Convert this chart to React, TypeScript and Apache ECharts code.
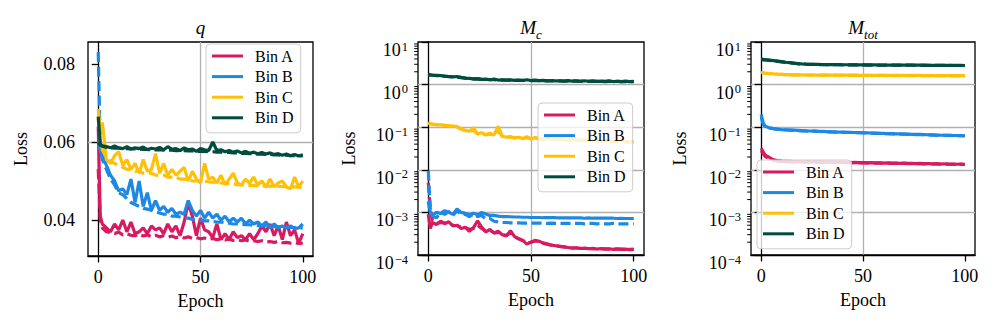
import React, { useEffect, useRef } from "react";
import * as echarts from "echarts";

// ---------- data ----------
const epochs = [0, 1,
  2, 4, 6, 8, 10, 12, 14, 16, 18, 20,
  22, 24, 26, 28, 30, 32, 34, 36, 38, 40,
  42, 44, 46, 48, 50, 52, 54, 56, 58, 60,
  62, 64, 66, 68, 70, 72, 74, 76, 78, 80,
  82, 84, 86, 88, 90, 92, 94, 96, 98, 100];

const binNames = ["Bin A", "Bin B", "Bin C", "Bin D"];
const binColors = ["#D81B60", "#1E88E5", "#FFC107", "#004D40"];
const epochTicks = [0, 50, 100];
const qTicks = [0.04, 0.06, 0.08];
const logDecades = [1e-4, 1e-3, 1e-2, 1e-1, 1];
const logMinorMultipliers = [2, 3, 4, 5, 6, 7, 8, 9];

// panel q
const qTrainA = [0.064, 0.041,
  0.039, 0.038, 0.037, 0.039, 0.0375, 0.040, 0.037, 0.0395, 0.0365, 0.037,
  0.038, 0.0365, 0.0385, 0.0375, 0.038, 0.0365, 0.039, 0.037, 0.0385, 0.036,
  0.0395, 0.0445, 0.041, 0.036, 0.0405, 0.0375, 0.037, 0.0355, 0.039, 0.035,
  0.0365, 0.035, 0.037, 0.0355, 0.036, 0.035, 0.0365, 0.035, 0.0365, 0.0385,
  0.037, 0.039, 0.036, 0.0385, 0.035, 0.0395, 0.036, 0.0375, 0.034, 0.0365];
const qValA = [0.053, 0.040,
  0.038, 0.037, 0.0368, 0.0366, 0.0369, 0.0362, 0.0365, 0.0361, 0.036, 0.0364,
  0.0359, 0.0362, 0.0358, 0.0361, 0.0357, 0.0360, 0.0356, 0.0359, 0.0355, 0.0357,
  0.0354, 0.0357, 0.0353, 0.0355, 0.0352, 0.0354, 0.0351, 0.0353, 0.0350, 0.0351,
  0.0349, 0.0351, 0.0348, 0.0349, 0.0347, 0.0349, 0.0346, 0.0347, 0.0345, 0.0347,
  0.0344, 0.0345, 0.0343, 0.0345, 0.0342, 0.0343, 0.0341, 0.0342, 0.0340, 0.0341];
const qTrainB = [0.060, 0.058,
  0.0565, 0.054, 0.0515, 0.050, 0.0475, 0.048, 0.0465, 0.0505, 0.0445, 0.050,
  0.0435, 0.047, 0.0425, 0.045, 0.0425, 0.0435, 0.042, 0.043, 0.0415, 0.042,
  0.0415, 0.045, 0.0425, 0.041, 0.0425, 0.0405, 0.042, 0.0405, 0.0415, 0.040,
  0.041, 0.0395, 0.0405, 0.0395, 0.0405, 0.039, 0.040, 0.039, 0.0395, 0.0385,
  0.0395, 0.038, 0.039, 0.038, 0.0385, 0.038, 0.0385, 0.0378, 0.038, 0.039];
const qValB = [0.083, 0.059,
  0.0555, 0.053, 0.0505, 0.049, 0.047, 0.0465, 0.0455, 0.0445, 0.044, 0.0435,
  0.043, 0.0428, 0.0425, 0.042, 0.0418, 0.0415, 0.0415, 0.041, 0.041, 0.0408,
  0.0405, 0.0405, 0.0402, 0.040, 0.040, 0.0398, 0.0398, 0.0396, 0.0395, 0.0395,
  0.0393, 0.0392, 0.039, 0.039, 0.0389, 0.0388, 0.0388, 0.0386, 0.0386, 0.0385,
  0.0385, 0.0384, 0.0383, 0.0383, 0.0382, 0.0382, 0.0381, 0.0381, 0.038, 0.038];
const qTrainC = [0.0685, 0.063,
  0.065, 0.0555, 0.0545, 0.0565, 0.0575, 0.054, 0.0555, 0.053, 0.0545, 0.052,
  0.0555, 0.0525, 0.053, 0.057, 0.052, 0.0545, 0.0515, 0.053, 0.0515, 0.0525,
  0.0535, 0.050, 0.0525, 0.0505, 0.0495, 0.0545, 0.0505, 0.051, 0.0495, 0.0515,
  0.049, 0.0505, 0.052, 0.0495, 0.049, 0.0505, 0.0495, 0.051, 0.049, 0.050,
  0.0485, 0.0505, 0.0485, 0.0495, 0.050, 0.0485, 0.048, 0.051, 0.0485, 0.050];
const qValC = [0.066, 0.0605,
  0.058, 0.056, 0.055, 0.0545, 0.054, 0.0535, 0.053, 0.053, 0.0525, 0.0525,
  0.052, 0.052, 0.052, 0.0515, 0.0515, 0.0515, 0.051, 0.051, 0.051, 0.0505,
  0.0505, 0.0505, 0.050, 0.050, 0.050, 0.050, 0.0498, 0.0497, 0.0496, 0.0495,
  0.0494, 0.0493, 0.0492, 0.0491, 0.049, 0.049, 0.0489, 0.0489, 0.0488, 0.0488,
  0.0487, 0.0487, 0.0486, 0.0486, 0.0486, 0.0485, 0.0485, 0.0485, 0.0484, 0.0484];
const qTrainD = [0.0665, 0.0595,
  0.059, 0.0588, 0.0585, 0.059, 0.0585, 0.0583, 0.0588, 0.0582, 0.0585, 0.0583,
  0.0587, 0.058, 0.0584, 0.0582, 0.0586, 0.058, 0.0588, 0.0581, 0.0583, 0.0578,
  0.0585, 0.058, 0.0582, 0.0576, 0.0583, 0.058, 0.0578, 0.060, 0.0578, 0.058,
  0.0575, 0.0578, 0.0574, 0.0577, 0.0572, 0.0576, 0.0571, 0.0574, 0.057, 0.0573,
  0.0569, 0.0572, 0.0568, 0.057, 0.0566, 0.0569, 0.0565, 0.0568, 0.0564, 0.0567];
const qValD = [0.0598, 0.0592,
  0.0589, 0.0586, 0.0585, 0.0584, 0.0584, 0.0583, 0.0583, 0.0582, 0.0582, 0.0582,
  0.0581, 0.0581, 0.058, 0.058, 0.058, 0.0579, 0.0579, 0.0579, 0.0578, 0.0578,
  0.0578, 0.0577, 0.0577, 0.0576, 0.0576, 0.0576, 0.0575, 0.0575, 0.0574, 0.0574,
  0.0573, 0.0573, 0.0572, 0.0572, 0.0571, 0.0571, 0.057, 0.057, 0.0569, 0.0569,
  0.0568, 0.0568, 0.0567, 0.0567, 0.0566, 0.0566, 0.0565, 0.0565, 0.0565, 0.0564];

// panel Mc
const mcTrainA = [9e-4, 4.2e-4,
  5.8e-4, 5.2e-4, 6.2e-4, 5.5e-4, 6.0e-4, 4.8e-4, 5.0e-4, 4.2e-4, 4.5e-4, 3.6e-4,
  4.4e-4, 6.3e-4, 4.5e-4, 3.5e-4, 4.0e-4, 3.3e-4, 3.6e-4, 3.0e-4, 2.8e-4, 3.7e-4,
  2.7e-4, 2.4e-4, 2.2e-4, 1.8e-4, 2.0e-4, 2.2e-4, 2.1e-4, 1.9e-4, 1.8e-4, 1.7e-4,
  1.65e-4, 1.6e-4, 1.55e-4, 1.5e-4, 1.45e-4, 1.48e-4, 1.42e-4, 1.45e-4, 1.4e-4, 1.43e-4,
  1.38e-4, 1.42e-4, 1.37e-4, 1.4e-4, 1.36e-4, 1.39e-4, 1.35e-4, 1.37e-4, 1.34e-4, 1.36e-4];
const mcValA = [5e-3, 1.2e-3,
  6.5e-4, 5.5e-4, 5.8e-4, 5.6e-4, 5.5e-4, 5.0e-4, 4.9e-4, 4.5e-4, 4.4e-4, 4.0e-4,
  4.2e-4, 5.0e-4, 4.2e-4, 3.6e-4, 3.8e-4, 3.3e-4, 3.4e-4, 3.0e-4, 2.9e-4, 3.3e-4,
  2.7e-4, 2.4e-4, 2.2e-4, 1.9e-4, 2.0e-4, 2.15e-4, 2.05e-4, 1.9e-4, 1.8e-4, 1.7e-4,
  1.65e-4, 1.6e-4, 1.55e-4, 1.5e-4, 1.47e-4, 1.46e-4, 1.44e-4, 1.43e-4, 1.42e-4, 1.41e-4,
  1.40e-4, 1.40e-4, 1.39e-4, 1.38e-4, 1.38e-4, 1.37e-4, 1.37e-4, 1.36e-4, 1.36e-4, 1.35e-4];
const mcTrainB = [1.8e-3, 1.0e-3,
  8.5e-4, 1.0e-3, 9.5e-4, 1.1e-3, 1.0e-3, 9.0e-4, 1.2e-3, 1.0e-3, 9.5e-4, 8.8e-4,
  9.5e-4, 8.8e-4, 1.0e-3, 9.2e-4, 8.5e-4, 8.5e-4, 8.2e-4, 8.0e-4, 8.0e-4, 7.9e-4,
  7.8e-4, 7.8e-4, 7.7e-4, 7.7e-4, 7.6e-4, 7.6e-4, 7.6e-4, 7.5e-4, 7.5e-4, 7.5e-4,
  7.5e-4, 7.4e-4, 7.5e-4, 7.4e-4, 7.4e-4, 7.4e-4, 7.4e-4, 7.3e-4, 7.4e-4, 7.3e-4,
  7.3e-4, 7.3e-4, 7.3e-4, 7.3e-4, 7.3e-4, 7.2e-4, 7.3e-4, 7.2e-4, 7.2e-4, 7.2e-4];
const mcValB = [9.5e-3, 1.1e-3,
  8.0e-4, 7.5e-4, 1.0e-3, 9.0e-4, 1.05e-3, 8.5e-4, 1.1e-3, 8.8e-4, 9.0e-4, 8.0e-4,
  9.2e-4, 8.0e-4, 8.5e-4, 7.0e-4, 7.2e-4, 6.2e-4, 6.0e-4, 5.8e-4, 5.8e-4, 5.7e-4,
  5.7e-4, 5.7e-4, 5.6e-4, 5.6e-4, 5.6e-4, 5.6e-4, 5.6e-4, 5.6e-4, 5.5e-4, 5.6e-4,
  5.5e-4, 5.5e-4, 5.5e-4, 5.5e-4, 5.5e-4, 5.5e-4, 5.5e-4, 5.4e-4, 5.5e-4, 5.5e-4,
  5.4e-4, 5.5e-4, 5.4e-4, 5.4e-4, 5.5e-4, 5.4e-4, 5.4e-4, 5.4e-4, 5.4e-4, 5.4e-4];
const mcTrainC = [0.128, 0.122,
  0.118, 0.115, 0.113, 0.111, 0.108, 0.106, 0.103, 0.092, 0.085, 0.080,
  0.098, 0.070, 0.074, 0.067, 0.072, 0.065, 0.105, 0.062, 0.058, 0.060,
  0.056, 0.058, 0.054, 0.060, 0.053, 0.057, 0.055, 0.052, 0.055, 0.053,
  0.051, 0.054, 0.051, 0.050, 0.053, 0.050, 0.049, 0.051, 0.049, 0.048,
  0.050, 0.048, 0.047, 0.049, 0.047, 0.046, 0.048, 0.046, 0.045, 0.046];
const mcValC = [0.125, 0.12,
  0.117, 0.114, 0.112, 0.11, 0.107, 0.104, 0.10, 0.09, 0.083, 0.078,
  0.085, 0.069, 0.071, 0.066, 0.069, 0.064, 0.08, 0.061, 0.058, 0.059,
  0.056, 0.057, 0.054, 0.057, 0.053, 0.055, 0.054, 0.052, 0.053, 0.052,
  0.051, 0.052, 0.05, 0.05, 0.051, 0.049, 0.049, 0.05, 0.048, 0.048,
  0.049, 0.047, 0.047, 0.048, 0.046, 0.046, 0.047, 0.045, 0.045, 0.045];
const mcTrainD = [1.75, 1.70,
  1.68, 1.65, 1.62, 1.58, 1.55, 1.52, 1.55, 1.48, 1.42, 1.40,
  1.36, 1.38, 1.33, 1.35, 1.30, 1.34, 1.28, 1.30, 1.27, 1.29,
  1.26, 1.28, 1.25, 1.30, 1.25, 1.27, 1.24, 1.26, 1.22, 1.25,
  1.22, 1.23, 1.21, 1.24, 1.21, 1.22, 1.20, 1.23, 1.20, 1.22,
  1.19, 1.21, 1.19, 1.22, 1.18, 1.20, 1.18, 1.21, 1.17, 1.19];
const mcValD = [1.68, 1.67,
  1.66, 1.63, 1.60, 1.57, 1.54, 1.51, 1.50, 1.46, 1.42, 1.39,
  1.36, 1.35, 1.33, 1.32, 1.30, 1.30, 1.28, 1.28, 1.27, 1.27,
  1.26, 1.26, 1.25, 1.26, 1.24, 1.25, 1.23, 1.24, 1.22, 1.23,
  1.22, 1.22, 1.21, 1.22, 1.20, 1.21, 1.20, 1.21, 1.19, 1.20,
  1.19, 1.20, 1.18, 1.19, 1.18, 1.19, 1.17, 1.18, 1.17, 1.18];

// panel Mtot
const mtTrainA = [0.032, 0.026,
  0.022, 0.0195, 0.0172, 0.0165, 0.016, 0.0158, 0.0157, 0.0156, 0.0155, 0.0154,
  0.0155, 0.0153, 0.0154, 0.0152, 0.0153, 0.0151, 0.0152, 0.015, 0.0151, 0.0149,
  0.015, 0.0148, 0.0149, 0.0147, 0.0148, 0.0146, 0.0147, 0.0145, 0.0146, 0.0144,
  0.0145, 0.0143, 0.0144, 0.0142, 0.0143, 0.0141, 0.0142, 0.014, 0.0141, 0.0139,
  0.014, 0.0138, 0.0139, 0.0137, 0.0138, 0.0136, 0.0137, 0.0135, 0.0136, 0.0134];
const mtValA = [0.028, 0.024,
  0.0205, 0.0185, 0.0168, 0.0162, 0.0158, 0.0156, 0.0155, 0.0154, 0.0154, 0.0153,
  0.0153, 0.0152, 0.0152, 0.0151, 0.0151, 0.015, 0.015, 0.0149, 0.0149, 0.0148,
  0.0148, 0.0147, 0.0147, 0.0146, 0.0146, 0.0145, 0.0145, 0.0144, 0.0144, 0.0143,
  0.0143, 0.0142, 0.0142, 0.0141, 0.0141, 0.014, 0.014, 0.0139, 0.0139, 0.0138,
  0.0138, 0.0137, 0.0137, 0.0136, 0.0136, 0.0135, 0.0135, 0.0134, 0.0134, 0.0133];
const mtTrainB = [0.20, 0.125,
  0.105, 0.097, 0.093, 0.090, 0.088, 0.087, 0.086, 0.085, 0.084, 0.083,
  0.082, 0.0815, 0.081, 0.080, 0.0795, 0.079, 0.078, 0.0775, 0.077, 0.0765,
  0.076, 0.0755, 0.075, 0.0745, 0.074, 0.0735, 0.073, 0.0725, 0.072, 0.0715,
  0.071, 0.0705, 0.070, 0.0695, 0.069, 0.0685, 0.068, 0.0678, 0.0675, 0.067,
  0.0665, 0.066, 0.0655, 0.065, 0.0648, 0.0645, 0.064, 0.0638, 0.0635, 0.063];
const mtValB = [0.17, 0.118,
  0.102, 0.095, 0.092, 0.089, 0.087, 0.086, 0.085, 0.084, 0.083, 0.082,
  0.0815, 0.081, 0.0805, 0.0795, 0.079, 0.0785, 0.078, 0.077, 0.0765, 0.076,
  0.0755, 0.075, 0.0745, 0.074, 0.0735, 0.073, 0.0725, 0.072, 0.0715, 0.071,
  0.0705, 0.070, 0.0695, 0.069, 0.0685, 0.068, 0.0675, 0.067, 0.0668, 0.0665,
  0.066, 0.0655, 0.065, 0.0646, 0.0642, 0.064, 0.0636, 0.0633, 0.063, 0.0628];
const mtTrainC = [1.95, 1.90,
  1.87, 1.83, 1.79, 1.76, 1.74, 1.72, 1.71, 1.70, 1.69, 1.69,
  1.68, 1.68, 1.68, 1.67, 1.67, 1.67, 1.67, 1.66, 1.66, 1.66,
  1.66, 1.66, 1.66, 1.65, 1.65, 1.65, 1.65, 1.65, 1.65, 1.65,
  1.65, 1.64, 1.64, 1.64, 1.64, 1.64, 1.64, 1.64, 1.64, 1.63,
  1.63, 1.63, 1.63, 1.63, 1.63, 1.63, 1.63, 1.63, 1.62, 1.62];
const mtValC = [1.92, 1.88,
  1.85, 1.81, 1.78, 1.75, 1.73, 1.71, 1.70, 1.69, 1.69, 1.68,
  1.68, 1.67, 1.67, 1.67, 1.66, 1.66, 1.66, 1.66, 1.65, 1.65,
  1.65, 1.65, 1.65, 1.64, 1.64, 1.64, 1.64, 1.64, 1.64, 1.64,
  1.63, 1.63, 1.63, 1.63, 1.63, 1.63, 1.63, 1.63, 1.62, 1.62,
  1.62, 1.62, 1.62, 1.62, 1.62, 1.62, 1.61, 1.61, 1.61, 1.61];
const mtTrainD = [4.0, 3.92,
  3.85, 3.75, 3.65, 3.55, 3.45, 3.35, 3.28, 3.20, 3.10, 3.05,
  3.02, 3.00, 2.98, 2.97, 2.96, 2.95, 2.94, 2.93, 2.93, 2.92,
  2.92, 2.91, 2.91, 2.90, 2.90, 2.89, 2.89, 2.89, 2.88, 2.88,
  2.88, 2.87, 2.87, 2.87, 2.86, 2.86, 2.86, 2.85, 2.85, 2.85,
  2.84, 2.84, 2.84, 2.83, 2.83, 2.83, 2.82, 2.82, 2.82, 2.81];
const mtValD = [3.85, 3.82,
  3.78, 3.70, 3.60, 3.50, 3.40, 3.32, 3.25, 3.17, 3.08, 3.04,
  3.01, 2.99, 2.97, 2.96, 2.95, 2.94, 2.93, 2.92, 2.92, 2.91,
  2.91, 2.90, 2.90, 2.89, 2.89, 2.88, 2.88, 2.88, 2.87, 2.87,
  2.87, 2.86, 2.86, 2.86, 2.85, 2.85, 2.85, 2.84, 2.84, 2.84,
  2.83, 2.83, 2.83, 2.82, 2.82, 2.82, 2.81, 2.81, 2.81, 2.80];

const panelTitles = ["{i|q}", "{i|M}{s|c}", "{i|M}{s|tot}"];
const trainSets = [
  [qTrainA, qTrainB, qTrainC, qTrainD],
  [mcTrainA, mcTrainB, mcTrainC, mcTrainD],
  [mtTrainA, mtTrainB, mtTrainC, mtTrainD],
];
const valSets = [
  [qValA, qValB, qValC, qValD],
  [mcValA, mcValB, mcValC, mcValD],
  [mtValA, mtValB, mtValC, mtValD],
];

// ---------- styling ----------
const FONT = "Liberation Serif";
const FS = 18;
const grids = [
  { left: 88, top: 42, width: 225, height: 214 },
  { left: 418, top: 42, width: 226, height: 213 },
  { left: 751, top: 42, width: 224, height: 213 },
];
const legendPos = [
  { left: 206, top: 44 },
  { left: 538, top: 103 },
  { left: 757, top: 160 },
];
const titleX = [200.5, 531, 863];
const labelMargins = [13, 10, 10];
const nameGaps = [58, 60, 62];

const supText = (v: number) => {
  const e = Math.round(Math.log10(v));
  const s = e < 0 ? "\u2212" + String(-e) : String(e);
  return "{b|10}{p|" + s + "}";
};

export default function App() {
  const ref = useRef<HTMLDivElement>(null);
  useEffect(() => {
    if (!ref.current) return;
    const chart = echarts.init(ref.current, undefined, { renderer: "svg" });

    const axisLine = { show: true, lineStyle: { color: "#000", width: 1.3 } };
    const tickStyle = { color: "#000", width: 1.3 };
    const splitLine = { show: true, showMinLine: false, showMaxLine: false, lineStyle: { color: "#b0b0b0", width: 1.3 } };

    const xAxis = grids.map((_, p) => ({
      type: "value",
      gridIndex: p,
      min: -5,
      max: 105,
      name: "Epoch",
      nameLocation: "middle",
      nameGap: 36,
      nameTextStyle: { fontFamily: FONT, fontSize: FS, color: "#000" },
      axisLine: { ...axisLine, onZero: false },
      axisTick: { show: true, length: 6.5, lineStyle: tickStyle, customValues: epochTicks },
      axisLabel: { customValues: epochTicks, fontFamily: FONT, fontSize: FS, color: "#000", margin: 12 },
      splitLine,
    }));

    const logRich = {
      b: { fontFamily: FONT, fontSize: FS, color: "#000", lineHeight: 20, padding: [9, 0, 0, 0], verticalAlign: "top" },
      p: { fontFamily: FONT, fontSize: 12.5, color: "#000", lineHeight: 10, padding: [8, 0, 0, 1], verticalAlign: "top" },
    };

    const yAxis = grids.map((_, p) => {
      const base: any = {
        gridIndex: p,
        name: "Loss",
        nameLocation: "middle",
        nameGap: nameGaps[p],
        nameRotate: 90,
        nameTextStyle: { fontFamily: FONT, fontSize: FS, color: "#000" },
        axisLine,
        splitLine,
      };
      if (p === 0) {
        return {
          ...base,
          type: "value",
          min: 0.0308,
          max: 0.0856,
          axisTick: { show: true, length: 6.5, lineStyle: tickStyle, customValues: qTicks },
          axisLabel: {
            customValues: qTicks,
            formatter: (v: number) => v.toFixed(2),
            fontFamily: FONT, fontSize: FS, color: "#000", margin: labelMargins[p],
          },
        };
      }
      return {
        ...base,
        type: "log",
        logBase: 10,
        min: 1e-4,
        max: 10,
        axisTick: { show: true, length: 6.5, lineStyle: tickStyle },
        axisLabel: { formatter: supText, rich: logRich, margin: labelMargins[p], fontFamily: FONT },
      };
    });

    const series: any[] = [];
    for (let p = 0; p < 3; p++) {
      for (let b = 0; b < 4; b++) {
        const c = binColors[b];
        series.push({
          type: "line",
          name: binNames[b],
          xAxisIndex: p,
          yAxisIndex: p,
          data: epochs.map((e, i) => [e, trainSets[p][b][i]]),
          showSymbol: false,
          symbol: "none",
          silent: true,
          lineStyle: { color: c, width: 3.2 },
          itemStyle: { color: c },
          emphasis: { disabled: true },
        });
        series.push({
          type: "line",
          name: binNames[b] + " (val)",
          xAxisIndex: p,
          yAxisIndex: p,
          data: epochs.map((e, i) => [e, valSets[p][b][i]]),
          showSymbol: false,
          symbol: "none",
          silent: true,
          lineStyle: { color: c, width: 3.2, type: [10, 4.5] },
          itemStyle: { color: c },
          emphasis: { disabled: true },
        });
      }
    }
    // minor ticks on log axes
    const minorVals: number[] = [];
    logDecades.forEach((d) => logMinorMultipliers.forEach((m) => minorVals.push(d * m)));
    for (let p = 1; p < 3; p++) {
      series.push({
        type: "custom",
        xAxisIndex: p,
        yAxisIndex: p,
        silent: true,
        clip: false,
        z: 5,
        data: minorVals.map((v) => [-5, v]),
        renderItem: (params: any, api: any) => {
          const pt = api.coord([api.value(0), api.value(1)]);
          return {
            type: "line",
            shape: { x1: pt[0] - 3.8, y1: pt[1], x2: pt[0], y2: pt[1] },
            style: { stroke: "#000", lineWidth: 1 },
          };
        },
      });
    }

    const legend = legendPos.map((lp) => ({
      data: binNames,
      orient: "vertical",
      left: lp.left,
      top: lp.top,
      icon: "rect",
      itemWidth: 31,
      itemHeight: 3,
      itemGap: 4.6,
      padding: [4, 7, 7, 6],
      backgroundColor: "rgba(255,255,255,0.8)",
      borderColor: "#cccccc",
      borderWidth: 1,
      borderRadius: 4,
      selectedMode: false,
      itemStyle: { borderWidth: 0 },
      textStyle: { fontFamily: FONT, fontSize: 16, color: "#000", lineHeight: 16, padding: [0, 0, 0, 7] },
    }));

    const graphic = panelTitles.map((t, p) => ({
      type: "text",
      x: titleX[p],
      y: 29,
      silent: true,
      style: {
        text: t,
        align: "center",
        verticalAlign: "middle",
        fill: "#000",
        fontFamily: FONT,
        rich: {
          i: { fontFamily: FONT, fontStyle: "italic", fontSize: 19, fill: "#000", lineHeight: 22, verticalAlign: "top" },
          s: { fontFamily: FONT, fontStyle: "italic", fontSize: 13, fill: "#000", lineHeight: 14, padding: [10, 0, 0, 0], verticalAlign: "top" },
        },
      },
    }));

    chart.setOption({
      animation: false,
      backgroundColor: "#fff",
      textStyle: { fontFamily: FONT },
      grid: grids.map((g) => ({ ...g, show: true, borderColor: "#000", borderWidth: 1.3, backgroundColor: "transparent", containLabel: false })),
      xAxis,
      yAxis,
      legend,
      graphic,
      series,
    });
    return () => chart.dispose();
  }, []);
  return <div ref={ref} style={{ position: "absolute", left: 0, top: 0, width: 996, height: 326 }} />;
}
